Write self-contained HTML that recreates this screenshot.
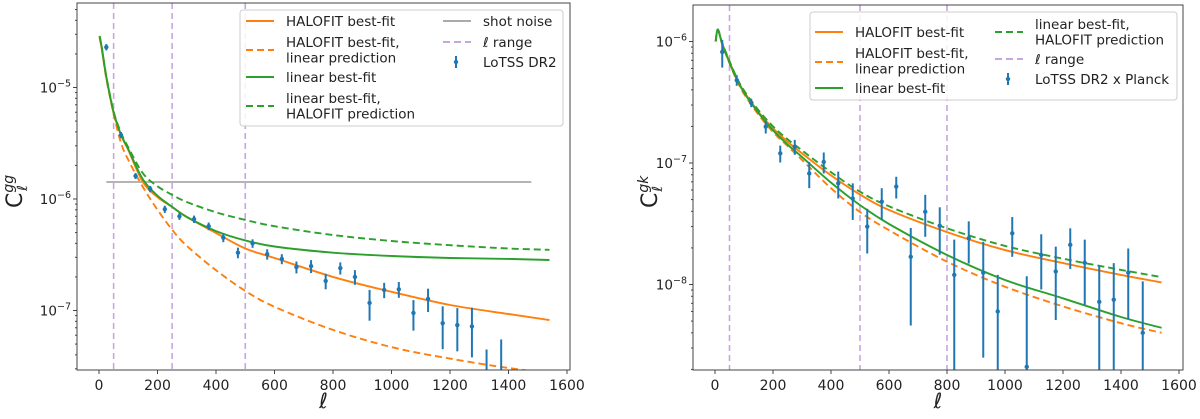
<!DOCTYPE html>
<html><head><meta charset="utf-8"><style>
html,body{margin:0;padding:0;background:#fff;width:1200px;height:419px;overflow:hidden}
svg{display:block}
svg text{font-family:"DejaVu Sans","Liberation Sans",sans-serif}
</style></head><body>
<svg id="fig" width="1200" height="419" viewBox="0 0 1200 419"></svg>
<script>
// ---------- Left panel data (C_l^gg) ----------
const ggEll = [25,75,125,175,225,275,325,375,425,475,525,575,625,675,725,775,825,875,925,975,1025,1075,1125,1175,1225,1275,1325,1375];
const ggVal = [2.3e-5,3.75e-6,1.61e-6,1.23e-6,8.1e-7,7.0e-7,6.6e-7,5.7e-7,4.5e-7,3.3e-7,4.0e-7,3.2e-7,2.9e-7,2.45e-7,2.5e-7,1.84e-7,2.4e-7,2.0e-7,1.17e-7,1.53e-7,1.55e-7,9.5e-8,1.27e-7,7.7e-8,7.4e-8,7.2e-8,2.37e-8,2.9e-8];
const ggErr = [1.5e-6,2.4e-7,1.0e-7,8e-8,6e-8,5e-8,5e-8,4.5e-8,4e-8,3.6e-8,3.5e-8,3.4e-8,3e-8,3e-8,3.3e-8,2.9e-8,3e-8,3e-8,3.6e-8,2.4e-8,2.5e-8,2.9e-8,3e-8,3.2e-8,3.1e-8,3.4e-8,2.1e-8,2.6e-8];
const curveEll = [2,10,25,50,75,100,150,200,250,300,400,500,600,800,1000,1200,1400,1540];
const ggHaloBest = [2.8e-5,2.2e-5,1.23e-5,5.9e-6,3.75e-6,2.75e-6,1.42e-6,1.04e-6,8.5e-7,6.9e-7,4.96e-7,3.6e-7,2.96e-7,2.0e-7,1.47e-7,1.12e-7,9.3e-8,8.2e-8];
const ggHaloLin = [2.8e-5,2.2e-5,1.2e-5,5.8e-6,3.2e-6,2.24e-6,1.28e-6,8e-7,5.3e-7,3.8e-7,2.3e-7,1.5e-7,1.08e-7,6.7e-8,4.7e-8,3.7e-8,3.05e-8,2.75e-8];
const ggLinBest = [2.9e-5,2.25e-5,1.25e-5,6.0e-6,3.8e-6,2.8e-6,1.5e-6,1.07e-6,8.5e-7,6.9e-7,5.15e-7,4.25e-7,3.75e-7,3.3e-7,3.08e-7,2.96e-7,2.9e-7,2.84e-7];
const ggLinHalo = [2.9e-5,2.25e-5,1.26e-5,6.1e-6,3.95e-6,2.9e-6,1.7e-6,1.3e-6,1.09e-6,9.4e-7,7.6e-7,6.5e-7,5.7e-7,4.75e-7,4.2e-7,3.85e-7,3.6e-7,3.5e-7];
const shotNoise = 1.42e-6;
const ggRange = [50,250,500];
// ---------- Right panel data (C_l^gk) ----------
const gkEll = [25,75,125,175,225,275,325,375,425,475,525,575,625,675,725,775,825,875,925,975,1025,1075,1125,1175,1225,1275,1325,1375,1425,1475];
const gkVal = [8.2e-7,4.8e-7,3.13e-7,1.99e-7,1.2e-7,1.36e-7,8.2e-8,1.02e-7,6.8e-8,5.1e-8,3.0e-8,4.8e-8,6.4e-8,1.69e-8,3.97e-8,3.04e-8,1.2e-8,2.4e-8,1.25e-8,6e-9,2.64e-8,2.1e-9,1.75e-8,1.28e-8,2.12e-8,1.51e-8,7.2e-9,7.5e-9,1.25e-8,4e-9];
const gkErr = [2.1e-7,4.8e-8,2.5e-8,2.4e-8,1.9e-8,1.9e-8,2.0e-8,2.0e-8,1.7e-8,1.7e-8,1.2e-8,1.4e-8,1.3e-8,1.23e-8,1.5e-8,1.28e-8,1.14e-8,9.1e-9,1.0e-8,6e-9,9.5e-9,9.6e-9,8.4e-9,7.7e-9,7.8e-9,8.3e-9,7.2e-9,7.5e-9,7.3e-9,6.6e-9];
const gkHaloBest = [1.0e-6,1.25e-6,9.6e-7,6.8e-7,4.97e-7,3.86e-7,2.64e-7,1.93e-7,1.5e-7,1.2e-7,7.9e-8,5.5e-8,4.1e-8,2.7e-8,1.92e-8,1.5e-8,1.2e-8,1.04e-8];
const gkHaloLin = [1.0e-6,1.24e-6,9.4e-7,6.6e-7,4.8e-7,3.7e-7,2.5e-7,1.8e-7,1.38e-7,1.06e-7,6.2e-8,3.95e-8,2.8e-8,1.54e-8,9.6e-9,6.6e-9,4.8e-9,4.0e-9];
const gkLinBest = [1.0e-6,1.25e-6,9.5e-7,6.7e-7,4.9e-7,3.8e-7,2.58e-7,1.86e-7,1.42e-7,1.12e-7,6.9e-8,4.5e-8,3.15e-8,1.75e-8,1.09e-8,7.7e-9,5.4e-9,4.4e-9];
const gkLinHalo = [1.0e-6,1.26e-6,9.7e-7,6.9e-7,5.05e-7,3.95e-7,2.72e-7,2.0e-7,1.57e-7,1.27e-7,8.4e-8,5.8e-8,4.4e-8,2.9e-8,2.08e-8,1.63e-8,1.32e-8,1.15e-8];
const gkRange = [50,500,800];
const xTicks = [0,200,400,600,800,1000,1200,1400,1600];

const NS='http://www.w3.org/2000/svg';
const fig=document.getElementById('fig');
function mk(tag,attrs,parent){const e=document.createElementNS(NS,tag);for(const k in attrs)e.setAttribute(k,attrs[k]);(parent||fig).appendChild(e);return e;}
const ORANGE='#ff7f0e',GREEN='#2ca02c',BLUE='#1f77b4',PURPLE='#c5a7e0',GREY='#aaaaaa';

function smoothPath(P){
  let d='M'+P[0][0].toFixed(1)+','+P[0][1].toFixed(1);
  for(let i=0;i<P.length-1;i++){
    const p0=P[Math.max(0,i-1)],p1=P[i],p2=P[i+1],p3=P[Math.min(P.length-1,i+2)];
    const c1x=p1[0]+(p2[0]-p0[0])/6,c1y=p1[1]+(p2[1]-p0[1])/6;
    const c2x=p2[0]-(p3[0]-p1[0])/6,c2y=p2[1]-(p3[1]-p1[1])/6;
    d+=` C${c1x.toFixed(1)},${c1y.toFixed(1)} ${c2x.toFixed(1)},${c2y.toFixed(1)} ${p2[0].toFixed(1)},${p2[1].toFixed(1)}`;
  }
  return d;
}

function panel(o){
  const g=mk('g',{});
  
  
  const X=l=>o.x0+(l/1600)*(o.x1600-o.x0);
  const Y=v=>o.yRef+(-Math.log10(v/o.vRef))*o.dec;
  const Yc=v=>Math.min(o.B,Math.max(o.T,Y(v)));
  const cid='clip-'+o.name;
  const cp=mk('clipPath',{id:cid},g);mk('rect',{x:o.L,y:o.T,width:o.R-o.L,height:o.B-o.T},cp);
  const plot=mk('g',{'clip-path':'url(#'+cid+')'},g);
  o.range.forEach(l=>{const ln=mk('line',{x1:X(l),x2:X(l),y1:o.T,y2:o.B,stroke:PURPLE,'stroke-width':1.6,'stroke-dasharray':'6,4'},plot);
    });
  if(o.shot!==undefined){const s=mk('line',{x1:X(25),x2:X(1478),y1:Y(o.shot),y2:Y(o.shot),stroke:GREY,'stroke-width':1.8},plot);
    }
  o.curves.forEach(c=>{const P=curveEll.map((l,i)=>[X(l),Math.min(o.B+4,Y(c.v[i]))]);
    const p=mk('path',{d:smoothPath(P),fill:'none',stroke:c.col,'stroke-width':1.9,'stroke-dasharray':c.dash?'7,4':'none','stroke-linejoin':'round'},plot);
    });
  o.ell.forEach((l,i)=>{const v=o.val[i],e=o.err[i];const lo=v-e>0?Yc(v-e):o.B;
    const eb=mk('line',{x1:X(l),x2:X(l),y1:Yc(v+e),y2:lo,stroke:BLUE,'stroke-width':2},plot);
    
    if(Y(v)<o.B){const d=mk('circle',{cx:X(l),cy:Y(v),r:2.2,fill:BLUE},plot);
    }});
  const fr=mk('rect',{x:o.L,y:o.T,width:o.R-o.L,height:o.B-o.T,fill:'none',stroke:'#444','stroke-width':1},g);
  
  xTicks.forEach(t=>{const x=X(t);mk('line',{x1:x,x2:x,y1:o.B,y2:o.B+4,stroke:'#444'},g);
    const tx=mk('text',{x:x,y:o.B+20,'font-size':14,'text-anchor':'middle',fill:'#222'},g);tx.textContent=t;
    });
  const xl=mk('text',{x:(o.L+o.R)/2,y:408,'font-size':21,'font-style':'italic','text-anchor':'middle',fill:'#222'},g);xl.textContent='ℓ';
  
  for(let ex=-10;ex<=-3;ex++){for(let m=1;m<10;m++){const v=m*Math.pow(10,ex);const y=Y(v);if(y<o.T||y>o.B)continue;
    mk('line',{x1:o.L-(m===1?4:2),x2:o.L,y1:y,y2:y,stroke:'#444'},g);
    if(m===1){const t=mk('text',{x:o.L-6,y:y+5,'font-size':13.5,'text-anchor':'end',fill:'#222'},g);
      
      t.appendChild(document.createTextNode('10'));const s=mk('tspan',{dy:-6,'font-size':9.5},t);s.textContent='−'+(-ex);}}}
  const yl=mk('text',{transform:`translate(${o.ylx},${o.yly}) rotate(-90)`,'font-size':22,fill:'#222'},g);
  
  yl.appendChild(document.createTextNode('C'));
  const t1=mk('tspan',{dy:-9,'font-size':14,'font-style':'italic'},yl);t1.textContent=o.sup;
  const t2=mk('tspan',{dy:14,dx:-16,'font-size':14,'font-style':'italic'},yl);t2.textContent='ℓ';
  const lg=mk('g',{},g);
  mk('rect',{x:o.lg.x,y:o.lg.y,width:o.lg.w,height:o.lg.h,rx:3,fill:'#fff','fill-opacity':0.85,stroke:'#ccc'},lg);
  o.lg.items.forEach(it=>{const ge=mk('g',{},lg);
    if(it.type==='pt'){mk('line',{x1:it.x+13,x2:it.x+13,y1:it.y-6,y2:it.y+6,stroke:BLUE,'stroke-width':2},ge);mk('circle',{cx:it.x+13,cy:it.y,r:2.2,fill:BLUE},ge);}
    else mk('line',{x1:it.x,x2:it.x+28,y1:it.y,y2:it.y,stroke:it.col,'stroke-width':1.9,'stroke-dasharray':it.dash?'7,4':'none'},ge);
    it.lines.forEach((s,k)=>{const t=mk('text',{x:it.x+40,y:it.ty+k*15.5,'font-size':13.5,fill:'#222'},ge);
      if(s.startsWith('ℓ')){const ts=mk('tspan',{'font-style':'italic'},t);ts.textContent='ℓ';t.appendChild(document.createTextNode(s.slice(1)));}else t.textContent=s;});});
}

panel({name:'gg-panel',L:77,R:570,T:3,B:370,x0:99,x1600:567,yRef:199,vRef:1e-6,dec:111.5,ylx:22,yly:208,sup:'gg',
  ell:ggEll,val:ggVal,err:ggErr,range:ggRange,shot:shotNoise,
  curves:[{v:ggHaloBest,col:ORANGE,name:'halofit-best-fit-curve'},{v:ggHaloLin,col:ORANGE,dash:1,name:'halofit-linear-prediction-curve'},
    {v:ggLinBest,col:GREEN,name:'linear-best-fit-curve'},{v:ggLinHalo,col:GREEN,dash:1,name:'linear-halofit-prediction-curve'}],
  lg:{x:240,y:10,w:323,h:116,items:[
    {col:ORANGE,x:246,y:21,ty:26,lines:['HALOFIT best-fit']},
    {col:ORANGE,dash:1,x:246,y:50,ty:47,lines:['HALOFIT best-fit,','linear prediction']},
    {col:GREEN,x:246,y:77,ty:82,lines:['linear best-fit']},
    {col:GREEN,dash:1,x:246,y:106,ty:103,lines:['linear best-fit,','HALOFIT prediction']},
    {col:GREY,x:443,y:21,ty:26,lines:['shot noise']},
    {col:PURPLE,dash:1,x:443,y:42,ty:47,lines:['ℓ range']},
    {type:'pt',x:443,y:62,ty:67,lines:['LoTSS DR2']}]}});

panel({name:'gk-panel',L:693,R:1183,T:5,B:370,x0:715,x1600:1179,yRef:163,vRef:1e-7,dec:121.5,ylx:657,yly:208,sup:'gk',
  ell:gkEll,val:gkVal,err:gkErr,range:gkRange,
  curves:[{v:gkHaloBest,col:ORANGE,name:'halofit-best-fit-curve'},{v:gkHaloLin,col:ORANGE,dash:1,name:'halofit-linear-prediction-curve'},
    {v:gkLinBest,col:GREEN,name:'linear-best-fit-curve'},{v:gkLinHalo,col:GREEN,dash:1,name:'linear-halofit-prediction-curve'}],
  lg:{x:810,y:12,w:367,h:88,items:[
    {col:ORANGE,x:815,y:32,ty:37,lines:['HALOFIT best-fit']},
    {col:ORANGE,dash:1,x:815,y:62,ty:58,lines:['HALOFIT best-fit,','linear prediction']},
    {col:GREEN,x:815,y:88,ty:93,lines:['linear best-fit']},
    {col:GREEN,dash:1,x:995,y:32,ty:29,lines:['linear best-fit,','HALOFIT prediction']},
    {col:PURPLE,dash:1,x:995,y:59,ty:64,lines:['ℓ range']},
    {type:'pt',x:995,y:79,ty:84,lines:['LoTSS DR2 x Planck']}]}});
</script>
</body></html>
